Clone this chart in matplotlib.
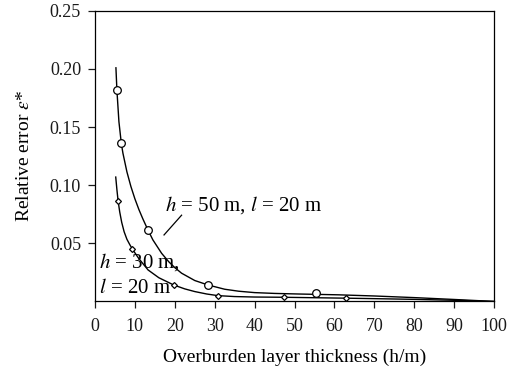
import matplotlib
matplotlib.use("Agg")
import matplotlib.pyplot as plt

plt.rcParams['font.family'] = ['Liberation Serif', 'DejaVu Serif']
plt.rcParams['mathtext.fontset'] = 'stix'

# Measured points
h50_x = [5.5, 6.6, 13.2, 28.3, 55.3]
h50_y = [0.1815, 0.136, 0.0614, 0.0145, 0.0076]
h30_x = [5.8, 9.4, 19.7, 30.8, 47.3, 63.0]
h30_y = [0.0863, 0.0449, 0.0142, 0.0048, 0.0037, 0.0027]

# Fitted curves
fit50_x = [5.25, 5.5, 6.0, 6.6, 7.0, 8.0, 9.0, 10.0, 11.0, 12.0, 13.2, 14.5, 16.7, 18.5, 20.0,
           21.7, 25.0, 28.3, 32.5, 36.0, 40.0, 45.0, 51.0, 61.0, 70.0, 80.0, 90.0, 100.0]
fit50_y = [0.201, 0.1814, 0.1546, 0.136, 0.1276, 0.1115, 0.0989, 0.0883, 0.0791, 0.0710, 0.0620,
           0.0530, 0.0414, 0.0341, 0.0291, 0.0243, 0.0180, 0.0142, 0.0105, 0.0088, 0.0076, 0.0069,
           0.0064, 0.0057, 0.0047, 0.0033, 0.0017, 0.0]
fit30_x = [5.2, 5.5, 5.8, 6.2, 6.7, 7.3, 8.0, 8.7, 9.4, 11.0, 13.3, 16.0, 19.7, 22.5, 25.0, 28.0,
           30.8, 35.0, 40.0, 47.0, 55.0, 63.0, 70.0, 80.0, 90.0, 100.0]
fit30_y = [0.107, 0.096, 0.0863, 0.077, 0.068, 0.0600, 0.0535, 0.0490, 0.0449, 0.0368, 0.0271,
           0.0204, 0.0142, 0.0108, 0.0085, 0.0064, 0.0050, 0.0042, 0.0038, 0.0036, 0.0032, 0.0028,
           0.0024, 0.0018, 0.0010, 0.0]

xticks = [0, 10, 20, 30, 40, 50, 60, 70, 80, 90, 100]
yticks = [0.05, 0.10, 0.15, 0.20, 0.25]

fig = plt.figure(figsize=(5.19, 3.74), dpi=100)
ax = fig.add_axes([0.183, 0.194, 0.769, 0.777])

ax.plot(fit50_x, fit50_y, color='black', lw=1.0)
ax.plot(fit30_x, fit30_y, color='black', lw=1.0)
ax.plot(h50_x, h50_y, linestyle='none', marker='o', ms=5.5, mfc='white', mec='black', mew=0.9)
ax.plot(h30_x, h30_y, linestyle='none', marker='D', ms=3.0, mfc='white', mec='black', mew=0.9)

ax.set_xlim(0, 100)
ax.set_ylim(0, 0.25)
ax.set_xticks(xticks)
ax.set_yticks(yticks)
ax.set_yticklabels([f"{v:.2f}" for v in yticks])
ax.tick_params(direction='out', length=5, width=0.9, labelsize=13, colors='#1a1a1a', pad=5)
ax.tick_params(axis='x', pad=7)
ax.tick_params(top=False, right=False)
for s in ax.spines.values():
    s.set_linewidth(0.9)

ax.set_xlabel("Overburden layer thickness (h/m)", fontsize=14, labelpad=10)
ax.set_ylabel(r"Relative error $\varepsilon$*", fontsize=14, labelpad=12)

ax.text(17.5, 0.0786, r"$h$ = 50 m, $l$ = 20 m", fontsize=15, ha='left', va='baseline')
ax.plot([21.7, 17.3], [0.0742, 0.0572], color='black', lw=0.9)
ax.text(1.0, 0.029, r"$h$ = 30 m,", fontsize=15, ha='left', va='baseline')
ax.text(1.0, 0.0075, r"$l$ = 20 m", fontsize=15, ha='left', va='baseline')

fig.savefig("out.png", dpi=100)
